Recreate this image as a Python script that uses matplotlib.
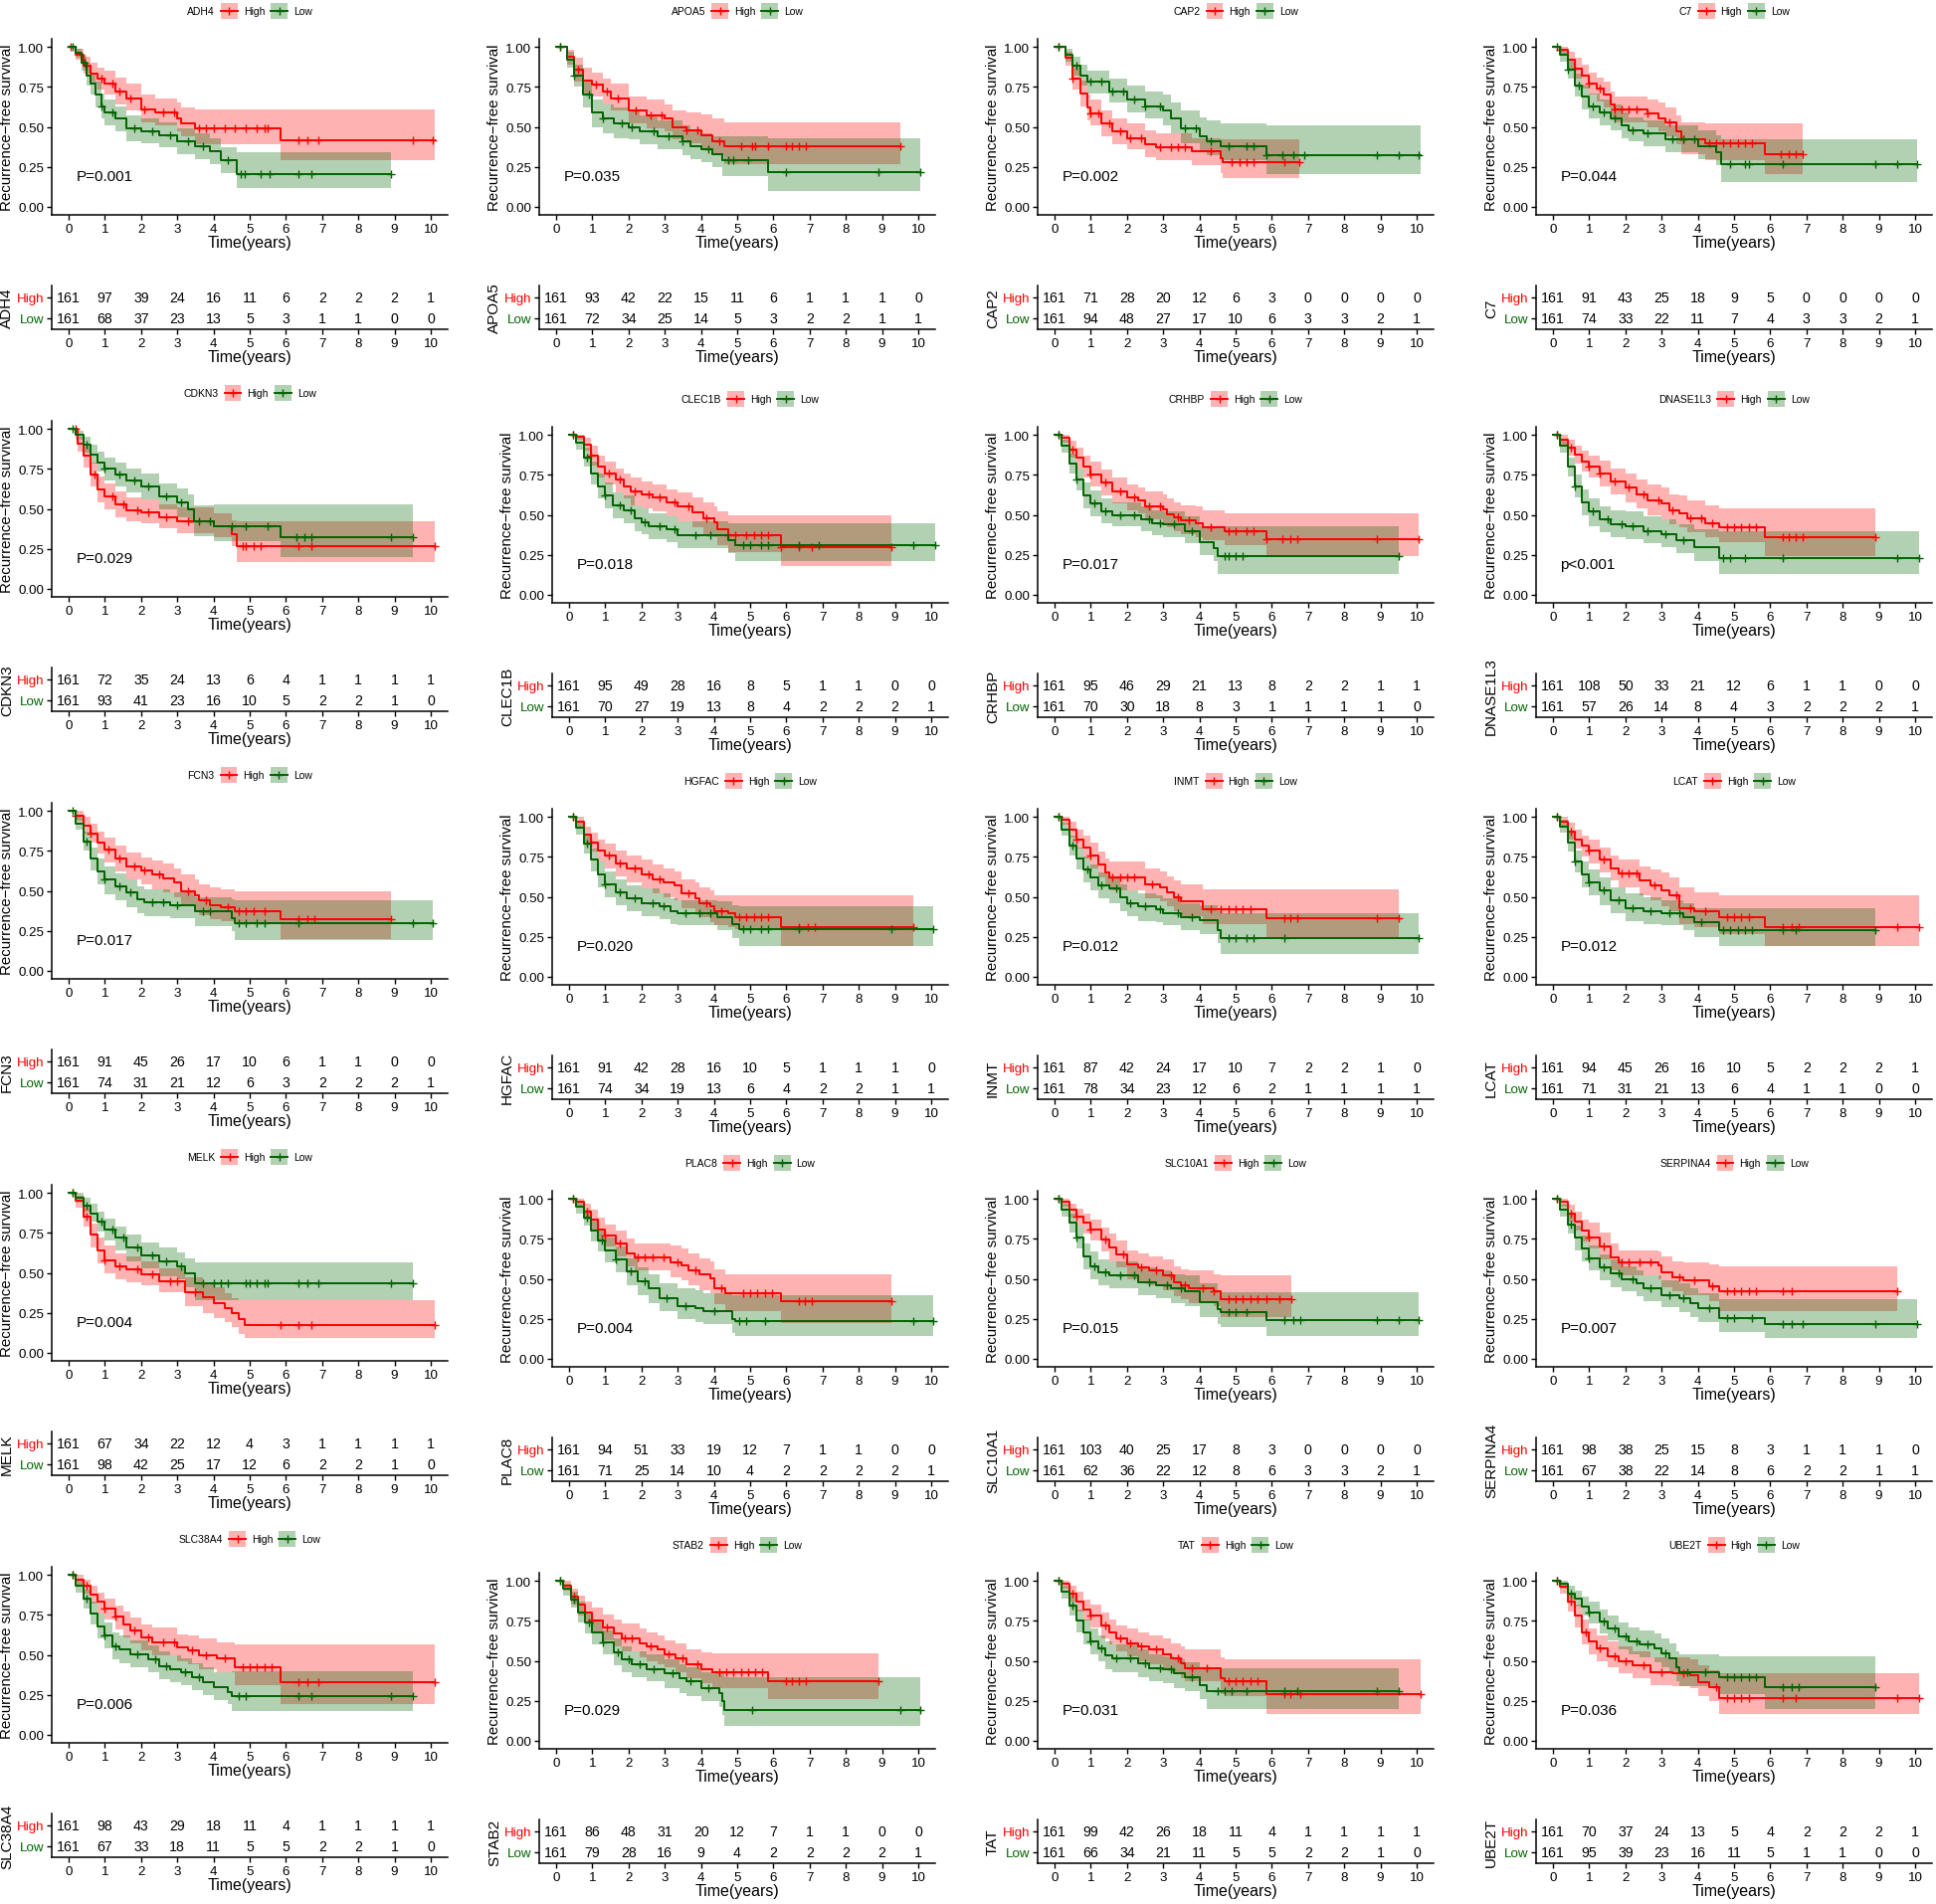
import numpy as np
import matplotlib
matplotlib.use("Agg")
import matplotlib.pyplot as plt
from matplotlib.ticker import FormatStrFormatter
from matplotlib.offsetbox import TextArea, DrawingArea, HPacker, AnchoredOffsetbox
from matplotlib.patches import Rectangle
from matplotlib.lines import Line2D

plt.rcParams['font.family'] = ['Liberation Sans', 'DejaVu Sans']

# ---- data ----
genes = ["ADH4", "APOA5", "CAP2", "C7",
         "CDKN3", "CLEC1B", "CRHBP", "DNASE1L3",
         "FCN3", "HGFAC", "INMT", "LCAT",
         "MELK", "PLAC8", "SLC10A1", "SERPINA4",
         "SLC38A4", "STAB2", "TAT", "UBE2T"]
pvals = ["P=0.001", "P=0.035", "P=0.002", "P=0.044",
         "P=0.029", "P=0.018", "P=0.017", "p<0.001",
         "P=0.017", "P=0.020", "P=0.012", "P=0.012",
         "P=0.004", "P=0.004", "P=0.015", "P=0.007",
         "P=0.006", "P=0.029", "P=0.031", "P=0.036"]
table_times = list(range(11))

risk_high = [
    [161, 97, 39, 24, 16, 11, 6, 2, 2, 2, 1],
    [161, 93, 42, 22, 15, 11, 6, 1, 1, 1, 0],
    [161, 71, 28, 20, 12, 6, 3, 0, 0, 0, 0],
    [161, 91, 43, 25, 18, 9, 5, 0, 0, 0, 0],
    [161, 72, 35, 24, 13, 6, 4, 1, 1, 1, 1],
    [161, 95, 49, 28, 16, 8, 5, 1, 1, 0, 0],
    [161, 95, 46, 29, 21, 13, 8, 2, 2, 1, 1],
    [161, 108, 50, 33, 21, 12, 6, 1, 1, 0, 0],
    [161, 91, 45, 26, 17, 10, 6, 1, 1, 0, 0],
    [161, 91, 42, 28, 16, 10, 5, 1, 1, 1, 0],
    [161, 87, 42, 24, 17, 10, 7, 2, 2, 1, 0],
    [161, 94, 45, 26, 16, 10, 5, 2, 2, 2, 1],
    [161, 67, 34, 22, 12, 4, 3, 1, 1, 1, 1],
    [161, 94, 51, 33, 19, 12, 7, 1, 1, 0, 0],
    [161, 103, 40, 25, 17, 8, 3, 0, 0, 0, 0],
    [161, 98, 38, 25, 15, 8, 3, 1, 1, 1, 0],
    [161, 98, 43, 29, 18, 11, 4, 1, 1, 1, 1],
    [161, 86, 48, 31, 20, 12, 7, 1, 1, 0, 0],
    [161, 99, 42, 26, 18, 11, 4, 1, 1, 1, 1],
    [161, 70, 37, 24, 13, 5, 4, 2, 2, 2, 1]]
risk_low = [
    [161, 68, 37, 23, 13, 5, 3, 1, 1, 0, 0],
    [161, 72, 34, 25, 14, 5, 3, 2, 2, 1, 1],
    [161, 94, 48, 27, 17, 10, 6, 3, 3, 2, 1],
    [161, 74, 33, 22, 11, 7, 4, 3, 3, 2, 1],
    [161, 93, 41, 23, 16, 10, 5, 2, 2, 1, 0],
    [161, 70, 27, 19, 13, 8, 4, 2, 2, 2, 1],
    [161, 70, 30, 18, 8, 3, 1, 1, 1, 1, 0],
    [161, 57, 26, 14, 8, 4, 3, 2, 2, 2, 1],
    [161, 74, 31, 21, 12, 6, 3, 2, 2, 2, 1],
    [161, 74, 34, 19, 13, 6, 4, 2, 2, 1, 1],
    [161, 78, 34, 23, 12, 6, 2, 1, 1, 1, 1],
    [161, 71, 31, 21, 13, 6, 4, 1, 1, 0, 0],
    [161, 98, 42, 25, 17, 12, 6, 2, 2, 1, 0],
    [161, 71, 25, 14, 10, 4, 2, 2, 2, 2, 1],
    [161, 62, 36, 22, 12, 8, 6, 3, 3, 2, 1],
    [161, 67, 38, 22, 14, 8, 6, 2, 2, 1, 1],
    [161, 67, 33, 18, 11, 5, 5, 2, 2, 1, 0],
    [161, 79, 28, 16, 9, 4, 2, 2, 2, 2, 1],
    [161, 66, 34, 21, 11, 5, 5, 2, 2, 1, 0],
    [161, 95, 39, 23, 16, 11, 5, 1, 1, 0, 0]]

# High group: step times, survival, CI lower, CI upper, last follow-up, censor times
high_t = [
    [0, 0.2, 0.4, 0.6, 0.8, 1.0, 1.3, 1.6, 2.0, 2.4, 3.0, 3.1, 3.5, 5.85],
    [0, 0.3, 0.5, 0.75, 1.0, 1.3, 1.5, 2.0, 2.5, 3.0, 3.2, 3.6, 4.0, 4.3, 4.65],
    [0, 0.3, 0.5, 0.7, 0.9, 1.0, 1.3, 1.6, 2.0, 2.5, 2.8, 3.8, 4.6, 4.65],
    [0, 0.2, 0.4, 0.6, 0.8, 1.0, 1.2, 1.4, 1.6, 1.7, 2.6, 2.9, 3.1, 3.4, 3.55, 4.2, 5.85],
    [0, 0.25, 0.4, 0.6, 0.8, 1.0, 1.3, 1.6, 2.0, 2.5, 3.0, 4.0, 4.5, 4.65],
    [0, 0.2, 0.4, 0.6, 0.8, 1.0, 1.3, 1.5, 1.7, 2.0, 2.3, 2.7, 3.0, 3.4, 3.7, 4.0, 4.1, 4.4, 5.85],
    [0, 0.2, 0.4, 0.6, 0.8, 1.0, 1.3, 1.6, 2.0, 2.3, 2.5, 3.0, 3.1, 3.3, 3.5, 3.9, 4.1, 4.7, 5.85],
    [0, 0.2, 0.4, 0.6, 0.8, 1.0, 1.3, 1.6, 2.0, 2.3, 2.6, 3.0, 3.2, 3.5, 3.7, 4.2, 4.6, 5.85],
    [0, 0.2, 0.4, 0.6, 0.8, 1.0, 1.3, 1.6, 2.0, 2.3, 2.6, 2.9, 3.1, 3.5, 3.6, 3.9, 4.2, 4.6, 5.85],
    [0, 0.2, 0.4, 0.6, 0.8, 1.0, 1.3, 1.6, 2.0, 2.3, 2.6, 2.9, 3.1, 3.5, 3.6, 3.9, 4.0, 4.4, 4.6, 5.85],
    [0, 0.2, 0.4, 0.6, 0.8, 1.0, 1.2, 1.4, 1.5, 2.5, 2.9, 3.1, 3.3, 3.5, 4.1, 5.85],
    [0, 0.2, 0.4, 0.6, 0.8, 1.0, 1.3, 1.6, 1.8, 2.4, 2.7, 3.0, 3.2, 3.5, 3.9, 4.6, 5.85],
    [0, 0.2, 0.4, 0.6, 0.8, 1.0, 1.3, 1.6, 2.0, 2.5, 3.2, 3.7, 4.0, 4.3, 4.5, 4.7, 4.85],
    [0, 0.2, 0.4, 0.6, 0.8, 1.0, 1.3, 1.6, 1.8, 2.8, 3.1, 3.3, 3.6, 3.9, 4.0, 4.3, 5.85],
    [0, 0.2, 0.4, 0.6, 0.8, 1.0, 1.3, 1.5, 1.7, 2.0, 2.3, 2.6, 3.0, 3.3, 3.5, 3.7, 4.4, 4.6],
    [0, 0.2, 0.4, 0.6, 0.8, 1.0, 1.3, 1.6, 1.8, 2.9, 3.0, 3.3, 3.6, 4.3, 4.6],
    [0, 0.2, 0.4, 0.6, 0.8, 1.0, 1.3, 1.5, 1.7, 2.0, 2.3, 3.0, 3.3, 3.6, 4.1, 4.6, 5.85],
    [0, 0.2, 0.4, 0.6, 0.8, 1.0, 1.3, 1.6, 1.8, 2.3, 2.5, 2.8, 3.0, 3.3, 3.6, 4.0, 4.3, 5.85],
    [0, 0.2, 0.4, 0.6, 0.8, 1.0, 1.3, 1.5, 1.7, 2.0, 2.3, 2.6, 3.0, 3.2, 3.5, 3.6, 4.6, 4.7, 5.85],
    [0, 0.2, 0.4, 0.6, 0.8, 1.0, 1.2, 1.5, 1.8, 2.2, 2.7, 3.3, 3.8, 4.0, 4.3, 4.6]]
high_s = [
    [1, 0.95, 0.88, 0.83, 0.80, 0.77, 0.72, 0.68, 0.61, 0.59, 0.555, 0.52, 0.49, 0.415],
    [1, 0.94, 0.86, 0.79, 0.765, 0.72, 0.68, 0.60, 0.57, 0.555, 0.50, 0.48, 0.45, 0.41, 0.38],
    [1, 0.93, 0.80, 0.71, 0.62, 0.585, 0.52, 0.47, 0.43, 0.39, 0.37, 0.345, 0.305, 0.28],
    [1, 0.98, 0.92, 0.865, 0.82, 0.77, 0.74, 0.70, 0.64, 0.61, 0.585, 0.555, 0.525, 0.475, 0.42, 0.40, 0.33],
    [1, 0.91, 0.83, 0.715, 0.62, 0.58, 0.53, 0.49, 0.48, 0.45, 0.42, 0.39, 0.34, 0.27],
    [1, 0.99, 0.94, 0.87, 0.80, 0.76, 0.72, 0.68, 0.645, 0.625, 0.61, 0.575, 0.55, 0.515, 0.48, 0.455, 0.41, 0.375, 0.30],
    [1, 0.98, 0.91, 0.855, 0.80, 0.75, 0.70, 0.645, 0.61, 0.59, 0.555, 0.535, 0.505, 0.485, 0.465, 0.445, 0.42, 0.40, 0.345],
    [1, 0.97, 0.92, 0.875, 0.835, 0.80, 0.76, 0.71, 0.67, 0.625, 0.59, 0.57, 0.53, 0.51, 0.48, 0.45, 0.42, 0.36],
    [1, 0.97, 0.91, 0.86, 0.80, 0.76, 0.70, 0.655, 0.63, 0.60, 0.58, 0.55, 0.50, 0.47, 0.44, 0.41, 0.40, 0.37, 0.32],
    [1, 0.97, 0.89, 0.84, 0.79, 0.76, 0.71, 0.675, 0.64, 0.61, 0.59, 0.57, 0.52, 0.49, 0.46, 0.44, 0.41, 0.40, 0.37, 0.31],
    [1, 0.98, 0.92, 0.86, 0.81, 0.76, 0.70, 0.655, 0.62, 0.58, 0.56, 0.53, 0.50, 0.47, 0.42, 0.365],
    [1, 0.97, 0.91, 0.86, 0.82, 0.79, 0.73, 0.68, 0.645, 0.60, 0.57, 0.54, 0.51, 0.43, 0.41, 0.375, 0.31],
    [1, 0.95, 0.85, 0.74, 0.64, 0.58, 0.54, 0.52, 0.49, 0.45, 0.38, 0.345, 0.31, 0.28, 0.25, 0.21, 0.175],
    [1, 0.98, 0.92, 0.87, 0.81, 0.77, 0.72, 0.66, 0.635, 0.605, 0.585, 0.555, 0.525, 0.505, 0.44, 0.41, 0.36],
    [1, 0.98, 0.93, 0.89, 0.85, 0.81, 0.745, 0.695, 0.655, 0.59, 0.57, 0.55, 0.52, 0.48, 0.46, 0.44, 0.42, 0.37],
    [1, 0.98, 0.91, 0.86, 0.80, 0.76, 0.70, 0.635, 0.60, 0.585, 0.54, 0.51, 0.49, 0.455, 0.42],
    [1, 0.97, 0.93, 0.875, 0.83, 0.79, 0.74, 0.69, 0.65, 0.61, 0.58, 0.545, 0.525, 0.50, 0.48, 0.42, 0.33],
    [1, 0.97, 0.90, 0.85, 0.80, 0.75, 0.71, 0.67, 0.64, 0.61, 0.59, 0.57, 0.54, 0.515, 0.48, 0.45, 0.43, 0.375],
    [1, 0.98, 0.92, 0.87, 0.82, 0.78, 0.72, 0.68, 0.64, 0.61, 0.59, 0.57, 0.54, 0.515, 0.485, 0.455, 0.39, 0.37, 0.29],
    [1, 0.96, 0.87, 0.78, 0.68, 0.62, 0.58, 0.53, 0.50, 0.47, 0.43, 0.42, 0.41, 0.365, 0.335, 0.27]]
high_lo = [
    [1, 0.92, 0.83, 0.77, 0.73, 0.70, 0.64, 0.60, 0.53, 0.51, 0.47, 0.44, 0.39, 0.29],
    [1, 0.89, 0.78, 0.71, 0.69, 0.64, 0.60, 0.52, 0.49, 0.47, 0.42, 0.40, 0.36, 0.32, 0.27],
    [1, 0.88, 0.73, 0.63, 0.54, 0.51, 0.44, 0.39, 0.36, 0.31, 0.29, 0.26, 0.21, 0.18],
    [1, 0.95, 0.86, 0.80, 0.74, 0.70, 0.66, 0.62, 0.56, 0.53, 0.50, 0.47, 0.44, 0.39, 0.33, 0.29, 0.205],
    [1, 0.86, 0.76, 0.64, 0.54, 0.50, 0.45, 0.42, 0.41, 0.38, 0.35, 0.32, 0.27, 0.17],
    [1, 0.97, 0.90, 0.81, 0.73, 0.69, 0.64, 0.60, 0.56, 0.54, 0.52, 0.49, 0.46, 0.42, 0.38, 0.36, 0.31, 0.27, 0.18],
    [1, 0.95, 0.86, 0.79, 0.73, 0.68, 0.62, 0.57, 0.53, 0.51, 0.47, 0.45, 0.42, 0.40, 0.38, 0.36, 0.34, 0.31, 0.24],
    [1, 0.94, 0.87, 0.82, 0.77, 0.73, 0.68, 0.63, 0.58, 0.54, 0.50, 0.47, 0.44, 0.42, 0.39, 0.36, 0.33, 0.24],
    [1, 0.94, 0.86, 0.80, 0.73, 0.68, 0.62, 0.57, 0.54, 0.51, 0.49, 0.46, 0.41, 0.38, 0.35, 0.32, 0.31, 0.29, 0.20],
    [1, 0.94, 0.84, 0.78, 0.72, 0.68, 0.63, 0.59, 0.55, 0.52, 0.50, 0.48, 0.43, 0.40, 0.37, 0.34, 0.32, 0.31, 0.30, 0.19],
    [1, 0.95, 0.87, 0.80, 0.74, 0.68, 0.62, 0.57, 0.54, 0.49, 0.47, 0.44, 0.41, 0.38, 0.33, 0.25],
    [1, 0.94, 0.86, 0.80, 0.75, 0.71, 0.65, 0.60, 0.56, 0.51, 0.48, 0.44, 0.41, 0.33, 0.31, 0.27, 0.19],
    [1, 0.91, 0.79, 0.66, 0.56, 0.50, 0.46, 0.44, 0.42, 0.38, 0.29, 0.25, 0.22, 0.19, 0.16, 0.12, 0.09],
    [1, 0.95, 0.87, 0.80, 0.74, 0.70, 0.64, 0.58, 0.55, 0.51, 0.49, 0.46, 0.43, 0.41, 0.34, 0.30, 0.225],
    [1, 0.95, 0.88, 0.83, 0.78, 0.74, 0.67, 0.61, 0.57, 0.50, 0.48, 0.46, 0.43, 0.39, 0.37, 0.35, 0.33, 0.26],
    [1, 0.95, 0.86, 0.80, 0.73, 0.69, 0.62, 0.55, 0.52, 0.50, 0.45, 0.42, 0.40, 0.36, 0.30],
    [1, 0.94, 0.88, 0.82, 0.76, 0.72, 0.66, 0.61, 0.57, 0.53, 0.50, 0.46, 0.44, 0.41, 0.39, 0.31, 0.195],
    [1, 0.94, 0.85, 0.78, 0.73, 0.68, 0.63, 0.59, 0.56, 0.52, 0.50, 0.48, 0.46, 0.43, 0.39, 0.36, 0.33, 0.26],
    [1, 0.95, 0.87, 0.81, 0.75, 0.71, 0.64, 0.60, 0.56, 0.53, 0.50, 0.48, 0.45, 0.42, 0.39, 0.37, 0.29, 0.28, 0.17],
    [1, 0.92, 0.81, 0.71, 0.60, 0.54, 0.50, 0.46, 0.42, 0.39, 0.35, 0.34, 0.33, 0.28, 0.25, 0.17]]
high_hi = [
    [1, 0.99, 0.94, 0.90, 0.87, 0.85, 0.81, 0.77, 0.70, 0.68, 0.65, 0.62, 0.61, 0.61],
    [1, 0.98, 0.93, 0.87, 0.84, 0.80, 0.77, 0.69, 0.67, 0.64, 0.60, 0.59, 0.575, 0.55, 0.53],
    [1, 0.97, 0.87, 0.79, 0.70, 0.67, 0.60, 0.55, 0.52, 0.48, 0.46, 0.43, 0.42, 0.42],
    [1, 1.0, 0.97, 0.93, 0.89, 0.84, 0.81, 0.78, 0.72, 0.69, 0.67, 0.65, 0.62, 0.57, 0.53, 0.52, 0.52],
    [1, 0.95, 0.89, 0.79, 0.70, 0.66, 0.61, 0.57, 0.56, 0.53, 0.51, 0.47, 0.43, 0.42],
    [1, 1.0, 0.98, 0.93, 0.87, 0.83, 0.79, 0.76, 0.73, 0.71, 0.69, 0.66, 0.64, 0.61, 0.58, 0.55, 0.52, 0.50, 0.50],
    [1, 1.0, 0.96, 0.92, 0.87, 0.83, 0.78, 0.73, 0.69, 0.67, 0.645, 0.63, 0.60, 0.58, 0.56, 0.55, 0.53, 0.51, 0.51],
    [1, 1.0, 0.97, 0.93, 0.90, 0.87, 0.84, 0.79, 0.76, 0.72, 0.69, 0.67, 0.63, 0.62, 0.59, 0.56, 0.54, 0.54],
    [1, 1.0, 0.96, 0.92, 0.87, 0.83, 0.78, 0.74, 0.71, 0.69, 0.67, 0.64, 0.60, 0.57, 0.54, 0.52, 0.51, 0.50, 0.50],
    [1, 1.0, 0.94, 0.90, 0.86, 0.83, 0.79, 0.76, 0.73, 0.70, 0.68, 0.66, 0.61, 0.59, 0.56, 0.54, 0.51, 0.51, 0.51, 0.51],
    [1, 1.0, 0.97, 0.92, 0.88, 0.84, 0.78, 0.74, 0.72, 0.68, 0.66, 0.63, 0.60, 0.58, 0.545, 0.545],
    [1, 1.0, 0.96, 0.92, 0.88, 0.86, 0.81, 0.76, 0.73, 0.69, 0.67, 0.65, 0.62, 0.56, 0.53, 0.51, 0.51],
    [1, 0.98, 0.91, 0.81, 0.72, 0.67, 0.62, 0.60, 0.57, 0.53, 0.47, 0.44, 0.41, 0.37, 0.34, 0.33, 0.33],
    [1, 1.0, 0.97, 0.93, 0.88, 0.84, 0.80, 0.75, 0.72, 0.71, 0.69, 0.66, 0.63, 0.61, 0.56, 0.53, 0.53],
    [1, 1.0, 0.97, 0.94, 0.91, 0.87, 0.82, 0.78, 0.74, 0.68, 0.66, 0.64, 0.62, 0.58, 0.56, 0.55, 0.53, 0.52],
    [1, 1.0, 0.96, 0.92, 0.87, 0.85, 0.79, 0.72, 0.68, 0.67, 0.64, 0.61, 0.60, 0.59, 0.58],
    [1, 1.0, 0.97, 0.93, 0.89, 0.85, 0.81, 0.77, 0.73, 0.69, 0.67, 0.63, 0.62, 0.60, 0.58, 0.565, 0.565],
    [1, 1.0, 0.95, 0.91, 0.87, 0.83, 0.79, 0.76, 0.73, 0.70, 0.68, 0.66, 0.63, 0.61, 0.57, 0.55, 0.545, 0.545],
    [1, 1.0, 0.97, 0.93, 0.88, 0.85, 0.80, 0.76, 0.72, 0.70, 0.68, 0.66, 0.64, 0.61, 0.59, 0.57, 0.52, 0.51, 0.51],
    [1, 0.99, 0.92, 0.85, 0.76, 0.70, 0.66, 0.62, 0.59, 0.56, 0.52, 0.52, 0.51, 0.47, 0.44, 0.42]]
high_end = [10.1, 9.5, 6.75, 6.9, 10.1, 8.9, 10.05, 8.9, 8.9, 9.5,
            9.5, 10.1, 10.1, 8.9, 6.55, 9.5, 10.1, 8.9, 10.1, 10.1]
high_cens = [
    [0.05, 0.5, 0.9, 1.2, 1.4, 1.7, 2.1, 2.6, 2.9, 3.6, 3.8, 4.0, 4.3, 4.6, 4.9, 5.2, 5.4, 5.5, 6.35, 6.6, 6.9, 9.5, 10.05],
    [0.1, 0.6, 1.1, 1.4, 1.7, 2.2, 2.6, 2.9, 3.6, 3.9, 4.5, 5.1, 5.4, 5.5, 5.85, 6.35, 6.5, 6.7, 6.9, 9.5],
    [0.1, 0.5, 1.0, 1.2, 1.5, 1.8, 2.1, 2.4, 2.9, 3.2, 3.4, 3.6, 4.3, 4.9, 5.1, 5.3, 5.5, 6.35, 6.75],
    [0.2, 0.6, 1.0, 1.3, 1.7, 1.9, 2.1, 2.3, 2.6, 3.2, 3.6, 4.3, 4.5, 4.7, 4.9, 5.1, 5.3, 5.5, 6.3, 6.5, 6.7, 6.9],
    [0.2, 0.7, 1.2, 1.5, 1.9, 2.2, 2.7, 3.3, 4.8, 4.9, 5.1, 5.3, 6.35, 6.7, 10.1],
    [0.1, 0.6, 1.1, 1.4, 1.8, 2.2, 2.5, 2.9, 3.3, 3.8, 4.4, 4.6, 4.9, 5.1, 5.3, 5.5, 5.85, 6.35, 6.7, 8.9],
    [0.1, 0.5, 1.0, 1.4, 1.8, 2.2, 2.6, 2.9, 3.4, 3.7, 4.3, 4.8, 5.0, 5.3, 5.5, 5.85, 6.3, 6.5, 6.7, 8.9, 10.05],
    [0.1, 0.5, 1.0, 1.3, 1.7, 2.1, 2.5, 2.9, 3.3, 3.8, 4.1, 4.4, 4.8, 5.0, 5.2, 5.4, 5.6, 6.35, 6.5, 6.7, 6.9, 8.9],
    [0.2, 0.6, 1.1, 1.4, 1.8, 2.1, 2.5, 3.3, 3.8, 4.4, 4.7, 4.9, 5.1, 5.4, 6.35, 6.6, 6.8, 8.9],
    [0.1, 0.6, 1.1, 1.4, 1.8, 2.2, 2.5, 3.3, 3.8, 4.2, 4.7, 4.9, 5.1, 5.3, 5.5, 6.35, 6.6, 6.8, 9.5],
    [0.1, 0.6, 1.0, 1.6, 1.8, 2.0, 2.2, 2.7, 3.4, 4.3, 4.6, 4.8, 5.0, 5.2, 5.4, 6.35, 6.5, 6.7, 8.9, 9.5],
    [0.1, 0.5, 1.0, 1.4, 1.9, 2.1, 2.3, 2.8, 3.4, 3.8, 4.2, 4.8, 5.0, 5.2, 5.4, 6.35, 6.6, 6.8, 9.5, 10.1],
    [0.1, 0.5, 1.0, 1.4, 1.9, 2.3, 2.8, 3.0, 3.5, 5.85, 6.35, 6.7, 10.1],
    [0.1, 0.5, 1.0, 1.4, 1.9, 2.1, 2.3, 2.6, 3.0, 3.5, 4.2, 4.8, 5.0, 5.2, 5.4, 5.6, 6.35, 6.5, 6.7, 8.9],
    [0.1, 0.6, 1.0, 1.4, 1.9, 2.4, 2.8, 3.2, 3.6, 4.1, 4.4, 4.8, 5.0, 5.2, 5.4, 5.6, 5.85, 6.2, 6.55],
    [0.1, 0.5, 1.0, 1.4, 1.9, 2.1, 2.4, 2.7, 3.5, 3.9, 4.4, 4.8, 5.0, 5.2, 5.4, 5.6, 6.35, 6.6, 9.5],
    [0.1, 0.5, 1.0, 1.3, 1.8, 2.2, 2.6, 2.9, 3.4, 3.8, 4.3, 4.8, 5.0, 5.2, 5.4, 5.6, 6.35, 6.6, 6.9, 10.1],
    [0.1, 0.5, 1.0, 1.4, 1.9, 2.1, 2.6, 3.1, 3.5, 3.9, 4.5, 4.7, 4.9, 5.1, 5.3, 5.5, 5.7, 6.35, 6.5, 6.7, 6.9, 8.9],
    [0.1, 0.5, 1.0, 1.4, 1.8, 2.1, 2.4, 2.8, 3.4, 3.8, 4.2, 4.8, 5.0, 5.2, 5.4, 5.6, 6.35, 6.5, 6.8, 10.1],
    [0.1, 0.5, 0.9, 1.3, 1.7, 2.0, 2.5, 3.0, 3.6, 4.5, 4.8, 5.0, 5.2, 5.4, 6.35, 6.7, 9.5, 10.1]]

# Low group
low_t = [
    [0, 0.2, 0.35, 0.5, 0.6, 0.75, 0.9, 1.0, 1.3, 1.6, 2.0, 2.5, 3.0, 3.5, 3.9, 4.2, 4.65],
    [0, 0.3, 0.5, 0.75, 1.0, 1.3, 1.6, 2.0, 2.3, 2.8, 3.5, 3.7, 4.0, 4.3, 4.6, 5.85],
    [0, 0.3, 0.5, 0.7, 0.9, 1.5, 2.0, 2.5, 3.0, 3.2, 3.5, 4.0, 4.2, 4.6, 5.85],
    [0, 0.2, 0.4, 0.6, 0.8, 1.0, 1.3, 1.6, 1.9, 2.1, 2.5, 3.1, 4.0, 4.5, 4.65],
    [0, 0.2, 0.4, 0.6, 0.8, 1.0, 1.3, 1.6, 2.0, 2.5, 3.0, 3.3, 3.45, 4.0, 5.85],
    [0, 0.2, 0.4, 0.6, 0.8, 1.0, 1.2, 1.5, 1.8, 2.0, 2.2, 2.7, 3.0, 4.4, 4.6],
    [0, 0.2, 0.4, 0.6, 0.8, 1.0, 1.3, 1.6, 2.4, 2.7, 3.0, 3.6, 4.0, 4.4, 4.5],
    [0, 0.2, 0.4, 0.6, 0.8, 1.0, 1.3, 1.6, 2.0, 2.5, 3.0, 3.4, 3.9, 4.6],
    [0, 0.2, 0.4, 0.6, 0.8, 1.0, 1.3, 1.6, 1.9, 2.1, 2.8, 3.5, 4.5, 4.6],
    [0, 0.2, 0.4, 0.6, 0.8, 1.0, 1.3, 1.6, 2.0, 2.5, 2.8, 3.0, 4.1, 4.5, 4.7],
    [0, 0.2, 0.4, 0.6, 0.8, 1.0, 1.2, 1.5, 1.8, 2.0, 2.3, 2.8, 3.0, 3.5, 4.0, 4.5, 4.6],
    [0, 0.2, 0.4, 0.6, 0.8, 1.0, 1.3, 1.6, 2.0, 2.5, 3.0, 3.6, 3.9, 4.6],
    [0, 0.2, 0.4, 0.6, 0.8, 1.0, 1.3, 1.6, 2.0, 2.5, 3.0, 3.2, 3.5],
    [0, 0.2, 0.4, 0.6, 0.8, 1.0, 1.3, 1.6, 1.9, 2.2, 2.5, 3.0, 3.5, 3.7, 4.5, 4.6],
    [0, 0.2, 0.4, 0.6, 0.8, 1.0, 1.2, 1.5, 2.3, 2.8, 3.2, 3.6, 4.0, 4.5, 4.6, 5.85],
    [0, 0.2, 0.4, 0.6, 0.8, 1.0, 1.3, 1.6, 1.9, 2.3, 2.5, 3.0, 3.5, 3.8, 4.0, 4.6, 5.85],
    [0, 0.2, 0.4, 0.6, 0.8, 1.0, 1.2, 1.4, 1.7, 2.2, 2.5, 2.8, 3.1, 3.4, 3.7, 4.0, 4.4, 4.5],
    [0, 0.2, 0.4, 0.6, 0.8, 1.0, 1.3, 1.6, 1.8, 2.1, 2.5, 3.0, 3.4, 3.6, 4.0, 4.5, 4.6, 4.65],
    [0, 0.2, 0.4, 0.6, 0.8, 1.0, 1.2, 1.4, 1.6, 2.3, 2.6, 3.0, 3.3, 3.6, 4.0, 4.2],
    [0, 0.2, 0.4, 0.6, 0.8, 1.0, 1.3, 1.5, 1.8, 2.1, 2.4, 2.8, 3.0, 3.2, 3.4, 3.5, 4.6, 5.85]]
low_s = [
    [1, 0.96, 0.90, 0.82, 0.77, 0.70, 0.63, 0.59, 0.55, 0.49, 0.475, 0.45, 0.41, 0.38, 0.35, 0.29, 0.205],
    [1, 0.92, 0.82, 0.70, 0.59, 0.55, 0.52, 0.50, 0.47, 0.44, 0.41, 0.38, 0.36, 0.33, 0.29, 0.215],
    [1, 0.95, 0.88, 0.82, 0.78, 0.72, 0.67, 0.63, 0.60, 0.55, 0.49, 0.44, 0.41, 0.38, 0.325],
    [1, 0.95, 0.86, 0.76, 0.69, 0.63, 0.59, 0.555, 0.51, 0.48, 0.46, 0.42, 0.38, 0.34, 0.265],
    [1, 0.96, 0.90, 0.84, 0.79, 0.75, 0.715, 0.675, 0.64, 0.58, 0.54, 0.50, 0.42, 0.39, 0.325],
    [1, 0.95, 0.86, 0.76, 0.68, 0.62, 0.56, 0.53, 0.48, 0.455, 0.43, 0.41, 0.37, 0.34, 0.31],
    [1, 0.93, 0.82, 0.72, 0.62, 0.57, 0.52, 0.50, 0.47, 0.45, 0.44, 0.40, 0.33, 0.29, 0.24],
    [1, 0.93, 0.80, 0.68, 0.58, 0.52, 0.47, 0.44, 0.43, 0.40, 0.38, 0.34, 0.30, 0.23],
    [1, 0.92, 0.81, 0.70, 0.62, 0.57, 0.53, 0.49, 0.45, 0.43, 0.41, 0.37, 0.33, 0.30],
    [1, 0.93, 0.83, 0.73, 0.64, 0.58, 0.53, 0.49, 0.46, 0.44, 0.41, 0.40, 0.37, 0.33, 0.295],
    [1, 0.92, 0.82, 0.74, 0.67, 0.62, 0.57, 0.55, 0.50, 0.46, 0.44, 0.42, 0.40, 0.37, 0.355, 0.29, 0.24],
    [1, 0.94, 0.84, 0.72, 0.64, 0.59, 0.54, 0.48, 0.43, 0.41, 0.40, 0.375, 0.34, 0.29],
    [1, 0.97, 0.92, 0.87, 0.82, 0.77, 0.72, 0.66, 0.61, 0.57, 0.54, 0.50, 0.435],
    [1, 0.95, 0.88, 0.80, 0.74, 0.68, 0.62, 0.545, 0.485, 0.44, 0.38, 0.33, 0.315, 0.30, 0.25, 0.235],
    [1, 0.93, 0.85, 0.76, 0.64, 0.58, 0.54, 0.52, 0.48, 0.46, 0.44, 0.42, 0.355, 0.31, 0.29, 0.24],
    [1, 0.93, 0.84, 0.755, 0.69, 0.63, 0.57, 0.535, 0.50, 0.47, 0.44, 0.40, 0.38, 0.35, 0.315, 0.255, 0.22],
    [1, 0.93, 0.85, 0.76, 0.68, 0.62, 0.555, 0.535, 0.505, 0.47, 0.43, 0.41, 0.39, 0.36, 0.33, 0.30, 0.27, 0.245],
    [1, 0.95, 0.88, 0.80, 0.74, 0.68, 0.615, 0.555, 0.51, 0.48, 0.45, 0.42, 0.39, 0.37, 0.33, 0.295, 0.25, 0.19],
    [1, 0.93, 0.845, 0.75, 0.68, 0.62, 0.58, 0.535, 0.515, 0.485, 0.455, 0.445, 0.42, 0.40, 0.35, 0.31],
    [1, 0.98, 0.92, 0.89, 0.84, 0.80, 0.745, 0.705, 0.655, 0.62, 0.60, 0.58, 0.545, 0.515, 0.46, 0.43, 0.40, 0.335]]
low_lo = [
    [1, 0.93, 0.85, 0.76, 0.70, 0.62, 0.55, 0.51, 0.47, 0.41, 0.40, 0.37, 0.33, 0.30, 0.27, 0.21, 0.12],
    [1, 0.87, 0.75, 0.62, 0.50, 0.46, 0.43, 0.42, 0.39, 0.36, 0.32, 0.30, 0.28, 0.25, 0.19, 0.10],
    [1, 0.91, 0.82, 0.76, 0.71, 0.65, 0.59, 0.55, 0.51, 0.46, 0.40, 0.34, 0.32, 0.29, 0.205],
    [1, 0.91, 0.80, 0.69, 0.61, 0.55, 0.51, 0.48, 0.43, 0.41, 0.38, 0.34, 0.295, 0.26, 0.155],
    [1, 0.93, 0.85, 0.78, 0.73, 0.68, 0.64, 0.60, 0.56, 0.50, 0.45, 0.41, 0.33, 0.30, 0.20],
    [1, 0.91, 0.80, 0.69, 0.60, 0.54, 0.48, 0.45, 0.40, 0.38, 0.35, 0.33, 0.29, 0.26, 0.21],
    [1, 0.89, 0.76, 0.65, 0.54, 0.49, 0.45, 0.43, 0.40, 0.37, 0.36, 0.32, 0.25, 0.21, 0.13],
    [1, 0.89, 0.74, 0.61, 0.50, 0.43, 0.39, 0.36, 0.35, 0.32, 0.30, 0.26, 0.21, 0.13],
    [1, 0.88, 0.75, 0.63, 0.54, 0.48, 0.44, 0.40, 0.36, 0.34, 0.33, 0.28, 0.25, 0.19],
    [1, 0.89, 0.77, 0.66, 0.56, 0.50, 0.45, 0.41, 0.38, 0.36, 0.33, 0.32, 0.29, 0.24, 0.19],
    [1, 0.88, 0.76, 0.67, 0.59, 0.54, 0.49, 0.46, 0.41, 0.38, 0.35, 0.34, 0.32, 0.29, 0.27, 0.21, 0.145],
    [1, 0.90, 0.78, 0.65, 0.56, 0.51, 0.45, 0.40, 0.35, 0.33, 0.32, 0.29, 0.25, 0.19],
    [1, 0.94, 0.88, 0.82, 0.76, 0.70, 0.64, 0.57, 0.53, 0.48, 0.46, 0.41, 0.33],
    [1, 0.91, 0.83, 0.73, 0.67, 0.60, 0.54, 0.46, 0.40, 0.35, 0.30, 0.25, 0.23, 0.22, 0.16, 0.14],
    [1, 0.89, 0.79, 0.69, 0.56, 0.50, 0.46, 0.44, 0.40, 0.38, 0.35, 0.33, 0.26, 0.22, 0.20, 0.145],
    [1, 0.89, 0.78, 0.68, 0.61, 0.55, 0.49, 0.45, 0.42, 0.39, 0.36, 0.32, 0.29, 0.26, 0.23, 0.17, 0.13],
    [1, 0.89, 0.79, 0.69, 0.60, 0.54, 0.47, 0.45, 0.42, 0.39, 0.35, 0.33, 0.31, 0.28, 0.25, 0.22, 0.19, 0.15],
    [1, 0.91, 0.83, 0.74, 0.67, 0.60, 0.54, 0.47, 0.43, 0.40, 0.37, 0.33, 0.30, 0.28, 0.25, 0.21, 0.16, 0.09],
    [1, 0.89, 0.78, 0.68, 0.60, 0.54, 0.50, 0.45, 0.43, 0.40, 0.37, 0.36, 0.33, 0.31, 0.26, 0.20],
    [1, 0.95, 0.88, 0.84, 0.78, 0.73, 0.67, 0.63, 0.57, 0.54, 0.52, 0.49, 0.46, 0.43, 0.37, 0.34, 0.29, 0.20]]
low_hi = [
    [1, 0.99, 0.95, 0.88, 0.84, 0.78, 0.71, 0.67, 0.63, 0.57, 0.55, 0.53, 0.49, 0.46, 0.43, 0.37, 0.34],
    [1, 0.97, 0.89, 0.78, 0.67, 0.64, 0.62, 0.60, 0.57, 0.54, 0.51, 0.48, 0.46, 0.44, 0.44, 0.43],
    [1, 0.99, 0.94, 0.89, 0.85, 0.80, 0.76, 0.72, 0.70, 0.65, 0.60, 0.56, 0.54, 0.52, 0.51],
    [1, 0.99, 0.92, 0.83, 0.76, 0.71, 0.67, 0.64, 0.59, 0.56, 0.54, 0.51, 0.48, 0.45, 0.42],
    [1, 0.99, 0.95, 0.90, 0.86, 0.82, 0.79, 0.75, 0.72, 0.66, 0.63, 0.59, 0.52, 0.53, 0.53],
    [1, 0.98, 0.92, 0.83, 0.76, 0.70, 0.64, 0.62, 0.56, 0.54, 0.51, 0.49, 0.46, 0.45, 0.45],
    [1, 0.97, 0.88, 0.79, 0.70, 0.65, 0.60, 0.58, 0.55, 0.53, 0.52, 0.49, 0.43, 0.43, 0.43],
    [1, 0.97, 0.86, 0.75, 0.66, 0.60, 0.55, 0.53, 0.52, 0.49, 0.47, 0.44, 0.41, 0.40],
    [1, 0.96, 0.87, 0.77, 0.70, 0.65, 0.61, 0.57, 0.53, 0.51, 0.49, 0.46, 0.45, 0.44],
    [1, 0.97, 0.89, 0.80, 0.72, 0.66, 0.61, 0.57, 0.55, 0.52, 0.49, 0.48, 0.47, 0.45, 0.44],
    [1, 0.96, 0.88, 0.81, 0.75, 0.70, 0.65, 0.63, 0.58, 0.54, 0.52, 0.51, 0.49, 0.46, 0.45, 0.41, 0.40],
    [1, 0.98, 0.90, 0.79, 0.72, 0.67, 0.62, 0.56, 0.52, 0.50, 0.48, 0.46, 0.43, 0.43],
    [1, 1.0, 0.97, 0.93, 0.88, 0.84, 0.79, 0.74, 0.69, 0.66, 0.63, 0.59, 0.565],
    [1, 0.98, 0.93, 0.87, 0.81, 0.76, 0.70, 0.63, 0.57, 0.53, 0.47, 0.44, 0.43, 0.41, 0.40, 0.40],
    [1, 0.97, 0.91, 0.83, 0.72, 0.67, 0.62, 0.61, 0.57, 0.55, 0.53, 0.52, 0.47, 0.43, 0.415, 0.415],
    [1, 0.97, 0.90, 0.83, 0.77, 0.71, 0.65, 0.62, 0.58, 0.55, 0.52, 0.49, 0.47, 0.44, 0.41, 0.37, 0.37],
    [1, 0.97, 0.91, 0.83, 0.76, 0.70, 0.64, 0.62, 0.59, 0.56, 0.52, 0.50, 0.48, 0.45, 0.42, 0.39, 0.39, 0.395],
    [1, 0.98, 0.93, 0.87, 0.81, 0.76, 0.69, 0.64, 0.59, 0.56, 0.54, 0.51, 0.48, 0.46, 0.43, 0.42, 0.42, 0.40],
    [1, 0.97, 0.91, 0.82, 0.76, 0.70, 0.66, 0.62, 0.60, 0.57, 0.54, 0.53, 0.51, 0.49, 0.45, 0.455],
    [1, 1.0, 0.97, 0.94, 0.90, 0.87, 0.82, 0.78, 0.74, 0.71, 0.69, 0.67, 0.64, 0.61, 0.56, 0.54, 0.53, 0.53]]
low_end = [8.9, 10.05, 10.1, 10.05, 9.5, 10.1, 9.5, 10.1, 10.05, 10.05,
           10.05, 8.9, 9.5, 10.05, 10.05, 10.05, 9.5, 10.05, 9.5, 8.9]
low_cens = [
    [0.1, 0.45, 0.9, 1.2, 1.8, 2.3, 2.8, 3.3, 3.7, 4.4, 4.75, 4.85, 5.3, 5.55, 6.35, 6.7, 8.9],
    [0.1, 0.5, 0.9, 1.3, 1.8, 2.1, 2.7, 3.1, 3.5, 4.2, 4.75, 4.9, 5.3, 6.35, 8.9, 10.05],
    [0.1, 0.6, 1.0, 1.3, 1.6, 1.9, 2.2, 2.5, 2.9, 3.6, 3.9, 4.3, 4.8, 5.3, 5.5, 5.85, 6.3, 6.6, 6.9, 8.9, 9.5, 10.05],
    [0.1, 0.4, 0.7, 1.1, 1.4, 1.7, 2.2, 2.6, 3.3, 3.6, 3.9, 4.9, 5.3, 5.4, 6.35, 8.9, 9.5, 10.05],
    [0.1, 0.5, 1.0, 1.4, 1.8, 2.2, 2.7, 3.1, 3.6, 3.9, 4.5, 4.9, 5.5, 6.3, 6.5, 6.7, 8.9, 9.5],
    [0.1, 0.5, 1.0, 1.4, 1.7, 2.1, 2.5, 2.9, 3.5, 3.9, 4.8, 5.0, 5.3, 5.5, 6.35, 6.9, 9.5, 10.1],
    [0.1, 0.6, 1.1, 1.4, 1.8, 2.2, 2.6, 2.9, 3.3, 3.8, 4.7, 4.8, 5.0, 5.2, 9.5],
    [0.1, 0.6, 1.1, 1.5, 1.9, 2.2, 2.6, 3.1, 3.6, 4.7, 4.9, 5.3, 6.35, 9.5, 10.1],
    [0.1, 0.5, 1.0, 1.4, 1.7, 2.3, 2.6, 3.0, 3.7, 3.9, 4.7, 4.9, 5.2, 5.4, 6.35, 9.5, 10.05],
    [0.1, 0.5, 1.0, 1.4, 1.8, 2.3, 2.6, 3.2, 3.6, 3.9, 4.8, 5.0, 5.3, 5.5, 6.35, 8.9, 10.05],
    [0.1, 0.5, 0.9, 1.3, 1.7, 2.1, 2.5, 2.9, 3.4, 3.8, 4.8, 5.0, 5.3, 5.5, 6.35, 10.05],
    [0.1, 0.6, 1.0, 1.4, 1.8, 2.2, 2.7, 3.2, 3.5, 4.1, 4.7, 4.9, 5.1, 5.3, 5.5, 6.35, 6.7, 8.9],
    [0.1, 0.5, 0.9, 1.2, 1.5, 1.9, 2.3, 2.7, 3.1, 3.7, 4.0, 4.2, 4.4, 4.9, 5.0, 5.2, 5.4, 5.5, 6.35, 6.6, 6.9, 8.9, 9.5],
    [0.1, 0.5, 0.9, 1.3, 1.7, 2.1, 2.7, 3.2, 4.0, 4.7, 4.9, 5.4, 9.5, 10.05],
    [0.1, 0.6, 1.1, 1.4, 1.8, 2.2, 2.6, 3.1, 3.5, 4.8, 5.0, 5.3, 6.35, 6.6, 6.8, 8.9, 9.5, 10.05],
    [0.1, 0.5, 1.0, 1.4, 1.8, 2.2, 2.7, 3.2, 3.6, 4.3, 4.8, 5.0, 5.5, 6.35, 6.6, 6.9, 8.9, 10.05],
    [0.1, 0.5, 1.0, 1.3, 1.9, 2.4, 2.7, 3.2, 3.6, 4.7, 4.9, 6.35, 6.7, 8.9, 9.5],
    [0.1, 0.5, 0.9, 1.3, 1.7, 2.0, 2.3, 2.7, 3.2, 3.7, 4.2, 5.4, 9.5, 10.05],
    [0.1, 0.5, 1.0, 1.3, 1.7, 2.1, 2.5, 2.9, 3.2, 3.8, 4.5, 4.7, 4.9, 5.3, 6.35, 6.7, 8.9, 9.5],
    [0.1, 0.5, 1.0, 1.4, 1.7, 2.0, 2.3, 2.6, 3.1, 3.7, 4.2, 4.8, 5.0, 5.2, 5.4, 5.6, 6.35, 6.6, 6.8, 8.9]]

# ---- layout (pixels of the 1946 x 1915 canvas) ----
W, H = 1946, 1915
RED = "#FF0000"
GREEN = "#006400"
fig = plt.figure(figsize=(W / 100, H / 100), dpi=100)


def px_axes(left, top, width, height):
    return fig.add_axes([left / W, 1 - (top + height) / H, width / W, height / H])


def step_at(t, s, x):
    idx = np.searchsorted(np.asarray(t), np.asarray(x), side="right") - 1
    return np.asarray(s)[idx]


def key_box(color):
    da = DrawingArea(12.2, 12.2, 0, 0)
    da.add_artist(Rectangle((0, 0), 12.2, 12.2, facecolor=color, alpha=0.3, lw=0))
    da.add_artist(Line2D([0, 12.2], [6.1, 6.1], color=color, lw=1.4))
    da.add_artist(Line2D([6.1], [6.1], marker="+", ms=6, mew=1, color=color))
    return da


col_left = [52, 542, 1043, 1544]
panel_w = 398
km_h = 177
XL = (-0.47, 10.47)

for i, gene in enumerate(genes):
    r, c = divmod(i, 4)
    yb = 48 + 384 * r + (6 if (r > 0 and c > 0) else 0)
    left = col_left[c]
    if c == 1 and r in (1, 2, 3):
        left = 555

    # --- survival curves ---
    ax = px_axes(left, yb - 8, panel_w, km_h)
    groups = [(high_t[i], high_s[i], high_lo[i], high_hi[i], high_end[i], high_cens[i], RED),
              (low_t[i], low_s[i], low_lo[i], low_hi[i], low_end[i], low_cens[i], GREEN)]
    for t, s, lo, hi, end, cens, col in groups:
        tt = list(t) + [end]
        ax.fill_between(tt, list(lo) + [lo[-1]], list(hi) + [hi[-1]], step="post",
                        color=col, alpha=0.3, lw=0)
    for t, s, lo, hi, end, cens, col in groups:
        tt = list(t) + [end]
        ax.step(tt, list(s) + [s[-1]], where="post", color=col, lw=1.4)
        ax.plot(cens, step_at(t, s, cens), "+", color=col, ms=6, mew=1)

    ax.set_xlim(*XL)
    ax.set_ylim(-0.05, 1.05)
    ax.set_xticks(table_times)
    ax.set_yticks([0, 0.25, 0.5, 0.75, 1.0])
    ax.yaxis.set_major_formatter(FormatStrFormatter("%.2f"))
    for sp in ("top", "right"):
        ax.spines[sp].set_visible(False)
    for sp in ("left", "bottom"):
        ax.spines[sp].set_linewidth(1.1)
    ax.tick_params(length=3.5, width=1, labelsize=9.6, pad=2, colors="black")
    ax.set_xlabel("Time(years)", fontsize=11.5, labelpad=0)
    ax.set_ylabel("Recurrence\u2212free survival", fontsize=10.8, labelpad=3)
    ax.text(0.2, 0.19, pvals[i], fontsize=11, ha="left", va="center")

    tp = dict(fontsize=7.5)
    pack = HPacker(children=[TextArea(gene, textprops=tp), key_box(RED),
                             TextArea("High", textprops=tp), key_box(GREEN),
                             TextArea("Low", textprops=tp)],
                   align="center", pad=0, sep=4.3)
    leg = AnchoredOffsetbox(loc="center", child=pack, pad=0, borderpad=0, frameon=False,
                            bbox_to_anchor=(0.5, 1 + 28 / km_h),
                            bbox_transform=ax.transAxes)
    ax.add_artist(leg)

    # --- number at risk table ---
    tax = px_axes(left, yb + 240, panel_w, 44)
    tax.set_xlim(*XL)
    tax.set_ylim(0.476, 2.571)
    for k, x in enumerate(table_times):
        tax.text(x, 2, str(risk_high[i][k]), ha="center", va="center", fontsize=10.2)
        tax.text(x, 1, str(risk_low[i][k]), ha="center", va="center", fontsize=10.2)
    tax.set_xticks(table_times)
    tax.set_yticks([1, 2])
    tax.set_yticklabels(["Low", "High"])
    tax.get_yticklabels()[0].set_color(GREEN)
    tax.get_yticklabels()[1].set_color(RED)
    for sp in ("top", "right"):
        tax.spines[sp].set_visible(False)
    for sp in ("left", "bottom"):
        tax.spines[sp].set_linewidth(1.1)
    tax.tick_params(length=3.5, width=1, labelsize=9.6, pad=2)
    tax.set_xlabel("Time(years)", fontsize=11.5, labelpad=0)
    tax.set_ylabel(gene, fontsize=11, labelpad=2)

fig.savefig("out.png", dpi=100)
